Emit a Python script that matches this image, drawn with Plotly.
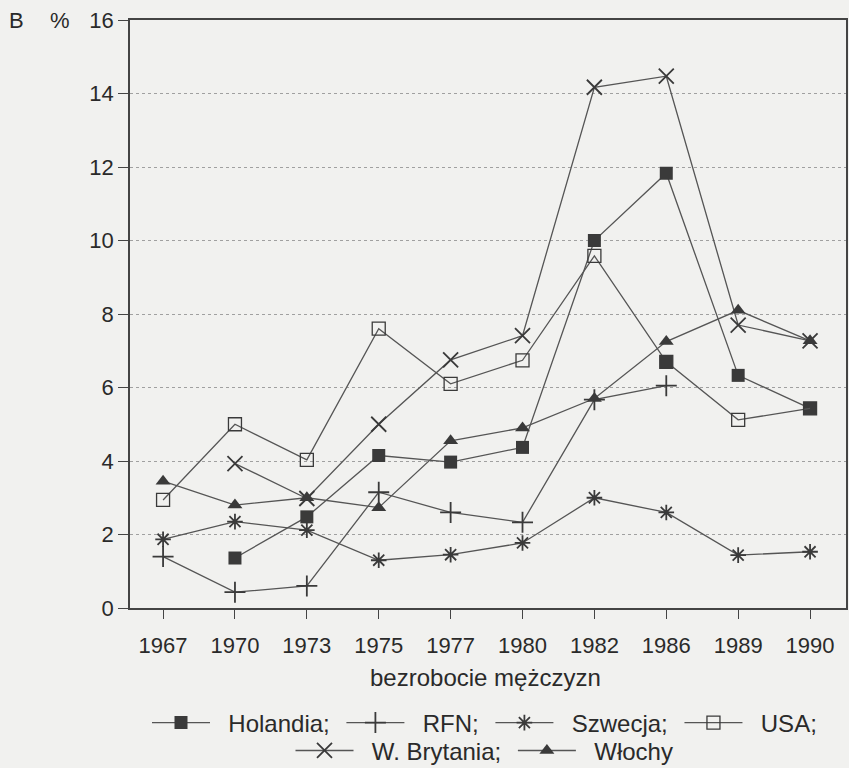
import plotly.graph_objects as go

years = ["1967", "1970", "1973", "1975", "1977", "1980", "1982", "1986", "1989", "1990"]
holandia = [None, 1.36, 2.48, 4.15, 3.97, 4.37, 10.0, 11.83, 6.33, 5.43]
rfn = [1.4, 0.43, 0.6, 3.15, 2.6, 2.33, 5.67, 6.05, None, None]
szwecja = [1.87, 2.35, 2.12, 1.3, 1.45, 1.77, 3.0, 2.6, 1.44, 1.53]
usa = [2.94, 5.0, 4.03, 7.6, 6.1, 6.74, 9.58, 6.7, 5.12, 5.43]
w_brytania = [None, 3.93, 2.98, 5.0, 6.75, 7.41, 14.17, 14.47, 7.7, 7.27]
wlochy = [3.45, 2.8, 3.0, 2.73, 4.55, 4.9, 5.7, 7.25, 8.1, 7.27]

y_ticks = [0, 2, 4, 6, 8, 10, 12, 14, 16]

FONT = "Liberation Sans, Arial, sans-serif"
INK = "#3a3a3a"
TXT = "#2a2a2a"
LINE = "#555555"
BG = "#f1f1ef"
PAD_L = "\u00a0\u00a0"
PAD_R = "\u00a0"

usa_symbols = ["square-open"] * len(years)
usa_symbols[7] = "square"

series = [
    ("Holandia;", holandia, dict(symbol="square", size=13, color=INK, line=dict(width=0)), "legend"),
    ("RFN;", rfn, dict(symbol="cross-thin-open", size=15, color=INK, line=dict(width=1.8, color=INK)), "legend"),
    ("Szwecja;", szwecja, dict(symbol="asterisk-open", size=13, color=INK, line=dict(width=1.8, color=INK)), "legend"),
    ("USA;", usa, dict(symbol=usa_symbols, size=13, color=INK, line=dict(width=1.3, color=INK)), "legend"),
    ("W. Brytania;", w_brytania, dict(symbol="x-thin-open", size=15, color=INK, line=dict(width=1.8, color=INK)), "legend2"),
    ("Włochy", wlochy, dict(symbol="triangle-up", size=13, color=INK, line=dict(width=0)), "legend2"),
]

fig = go.Figure()
for name, vals, marker, lg in series:
    fig.add_trace(go.Scatter(
        x=years, y=vals, name=PAD_L + name + PAD_R, mode="lines+markers",
        line=dict(color=LINE, width=1.3),
        marker=marker, connectgaps=False, legend=lg,
    ))

legend_common = dict(orientation="h", x=0.5, xanchor="center", yanchor="middle",
                     font=dict(family=FONT, size=24, color=TXT), itemwidth=58,
                     bgcolor="rgba(0,0,0,0)", itemclick=False, traceorder="normal")

fig.update_layout(
    width=849, height=768,
    margin=dict(l=130, r=3, t=20, b=160, autoexpand=False),
    paper_bgcolor=BG, plot_bgcolor=BG,
    font=dict(family=FONT, size=22, color=TXT),
    showlegend=True,
    legend=dict(y=-0.1956, **legend_common),
    legend2=dict(y=-0.243, **legend_common),
    annotations=[
        dict(text="B", xref="paper", yref="paper", x=-0.159, y=1, xanchor="center", yanchor="middle",
             showarrow=False, font=dict(family=FONT, size=22, color=TXT)),
        dict(text="%", xref="paper", yref="paper", x=-0.098, y=1, xanchor="center", yanchor="middle",
             showarrow=False, font=dict(family=FONT, size=22, color=TXT)),
        dict(text="bezrobocie mężczyzn", xref="paper", yref="paper", x=0.497, y=-0.119,
             xanchor="center", yanchor="middle", showarrow=False,
             font=dict(family=FONT, size=24, color=TXT)),
    ],
)
fig.update_xaxes(
    type="category", range=[-0.46, 9.5], automargin=False,
    showgrid=False, zeroline=False,
    showline=True, linecolor="#444", linewidth=1.5, mirror=True,
    ticks="outside", ticklen=9, tickcolor="#444", tickwidth=1.3,
    ticklabelstandoff=8,
)
fig.update_yaxes(
    range=[0, 16], tickvals=y_ticks, automargin=False,
    showgrid=True, gridcolor="#a0a0a0", griddash="dot", gridwidth=1,
    zeroline=False,
    showline=True, linecolor="#444", linewidth=1.5, mirror=True,
    ticks="outside", ticklen=10, tickcolor="#444", tickwidth=1.3,
    ticksuffix="\u00a0\u00a0",
)

fig.write_html("out.html", config={"displayModeBar": False},
               post_script="document.body.style.margin='0';document.body.style.background='#f1f1ef';")
